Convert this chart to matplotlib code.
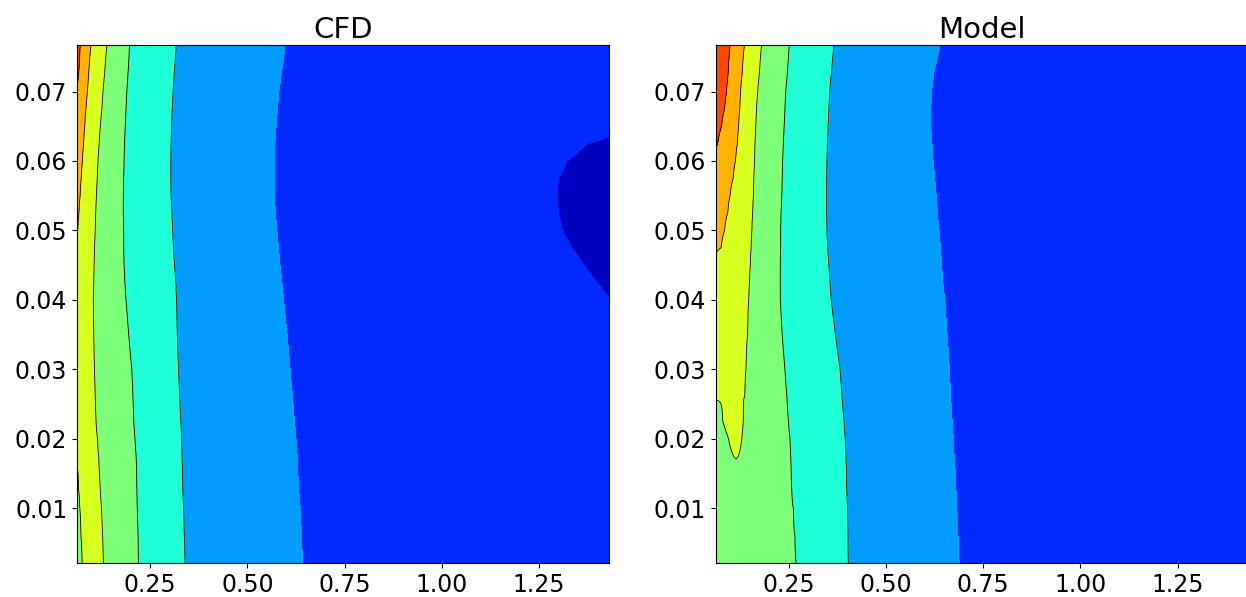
import numpy as np
import matplotlib
matplotlib.use("Agg")
import matplotlib.pyplot as plt

OUTPUT_IMG = "out.png"

# Domain shown in both panels
XMIN, XMAX = 0.062, 1.43

y_rows = [0.0767, 0.0725, 0.0700, 0.0675, 0.0650, 0.0625, 0.0600, 0.0575, 0.0550,
          0.0525, 0.0500, 0.0475, 0.0450, 0.0425, 0.0400, 0.0350, 0.0300, 0.0260,
          0.0225, 0.0200, 0.0175, 0.0160, 0.0125, 0.0100, 0.0060, 0.0021]
n = np.nan

# Field values in "band units": k = boundary between band k-1 and band k
# (1 dark blue/blue, 2 blue/light blue, ... 7 orange/red)

# ---- CFD: value at left / right edge and x position of each level boundary
cfd_left = [7.6, 7.2, 6.95, 6.7, 6.6, 6.5, 6.4, 6.3, 6.2, 6.1, 6.03, 5.9, 5.85,
            5.8, 5.8, 5.75, 5.7, 5.65, 5.6, 5.5, 5.3, 5.05, 4.8, 4.75, 4.7, 4.65]
cfd_right = [1.2, 1.15, 1.12, 1.09, 1.07, 0.95, 0.86, 0.82, 0.82, 0.82, 0.84, 0.87,
             0.92, 0.96, 1.005, 1.06, 1.1, 1.12, 1.13, 1.14, 1.15, 1.15, 1.15, 1.15,
             1.15, 1.15]
cfd_x7 = [0.070, 0.066] + [n] * 24
cfd_x6 = [0.098, 0.092, 0.089, 0.085, 0.082, 0.079, 0.076, 0.073, 0.070, 0.067,
          0.064] + [n] * 15
cfd_x5 = [0.139, 0.133, 0.129, 0.126, 0.122, 0.119, 0.116, 0.114, 0.112, 0.110,
          0.109, 0.107, 0.106, 0.105, 0.104, 0.105, 0.107, 0.109, 0.111, 0.115,
          0.118, 0.119, 0.122, 0.125, 0.128, 0.130]
cfd_x5b = [n] * 22 + [0.066, 0.069, 0.072, 0.075]
cfd_x4 = [0.197, 0.193, 0.190, 0.188, 0.186, 0.184, 0.183, 0.182, 0.181, 0.181,
          0.182, 0.182, 0.183, 0.185, 0.188, 0.195, 0.203, 0.206, 0.208, 0.211,
          0.214, 0.215, 0.216, 0.217, 0.219, 0.220]
cfd_x3 = [0.317, 0.312, 0.309, 0.307, 0.305, 0.304, 0.303, 0.303, 0.304, 0.306,
          0.308, 0.310, 0.313, 0.316, 0.318, 0.320, 0.323, 0.326, 0.329, 0.331,
          0.332, 0.333, 0.334, 0.336, 0.338, 0.340]
cfd_x2 = [0.597, 0.587, 0.581, 0.577, 0.574, 0.571, 0.569, 0.569, 0.570, 0.572,
          0.576, 0.580, 0.584, 0.589, 0.593, 0.602, 0.610, 0.616, 0.621, 0.625,
          0.628, 0.629, 0.632, 0.636, 0.639, 0.642]
cfd_x1 = [n] * 5 + [1.375, 1.322, 1.30, 1.296, 1.300, 1.31, 1.334, 1.365, 1.398] + [n] * 12

# ---- Model
mdl_left = [7.6, 7.5, 7.4, 7.3, 7.2, 7.05, 6.9, 6.8, 6.6, 6.4, 6.3, 6.1, 5.9,
            5.8, 5.7, 5.6, 5.4, 5.05, 4.8, 4.7, 4.6, 4.55, 4.5, 4.5, 4.4, 4.4]
mdl_right = [1.05] * 26
mdl_x7 = [0.099, 0.094, 0.090, 0.085, 0.077, 0.067] + [n] * 20
mdl_x6 = [0.136, 0.130, 0.126, 0.124, 0.121, 0.118, 0.113, 0.107, 0.099, 0.093,
          0.085, 0.076] + [n] * 14
mdl_x5 = [0.180, 0.174, 0.170, 0.167, 0.165, 0.163, 0.162, 0.160, 0.159, 0.157,
          0.155, 0.153, 0.151, 0.149, 0.147, 0.144, 0.140, 0.137, 0.133, 0.129,
          0.120] + [n] * 5
mdl_x5b = [n] * 18 + [0.080, 0.095, 0.108] + [n] * 5
mdl_x4 = [0.251, 0.246, 0.242, 0.240, 0.238, 0.236, 0.234, 0.233, 0.232, 0.230,
          0.229, 0.229, 0.228, 0.228, 0.228, 0.233, 0.240, 0.245, 0.249, 0.253,
          0.255, 0.256, 0.258, 0.262, 0.266, 0.269]
mdl_x3 = [0.366, 0.359, 0.355, 0.353, 0.351, 0.349, 0.348, 0.347, 0.347, 0.347,
          0.348, 0.350, 0.353, 0.356, 0.359, 0.370, 0.382, 0.387, 0.392, 0.395,
          0.397, 0.398, 0.399, 0.401, 0.402, 0.403]
mdl_x2 = [0.639, 0.622, 0.617, 0.615, 0.615, 0.618, 0.621, 0.625, 0.629, 0.632,
          0.636, 0.640, 0.643, 0.646, 0.651, 0.657, 0.663, 0.666, 0.670, 0.673,
          0.675, 0.677, 0.680, 0.682, 0.685, 0.688]

# contour level values (spaced roughly like the band positions, keeps the
# field gradient even so the boundaries stay smooth between rows)
level_vals = [-2.0, -1.33, -0.6, -0.33, -0.21, -0.13, -0.09, -0.07, -0.05, 0.0]
band_colors = plt.cm.jet((np.arange(9) + 0.5) / 9)
line_idx = [3, 4, 5, 6, 7, 8]
x_ticks = [0.25, 0.50, 0.75, 1.00, 1.25]
y_ticks = [0.01, 0.02, 0.03, 0.04, 0.05, 0.06, 0.07]


def build_field(xg, left, right, crossings):
    Z = np.empty((len(y_rows), len(xg)))
    for r in range(len(y_rows)):
        nodes = sorted((xs[r], lev) for lev, xs in crossings if not np.isnan(xs[r]))
        px, pv = [XMIN], [left[r]]
        for x, v in nodes + [(XMAX, right[r])]:
            # two crossings of the same level -> closed band in between
            if len(pv) > 1 and v == pv[-1]:
                step = 0.5 if pv[-1] > pv[-2] else -0.5
                px.append(0.5 * (px[-1] + x))
                pv.append(v + step)
            px.append(x)
            pv.append(v)
        pv = np.interp(pv, np.arange(len(level_vals)), level_vals)
        Z[r] = np.interp(xg, px, pv)
    return Z[::-1]


def draw(ax, Z, xg, title):
    yy = np.array(y_rows)[::-1]
    ax.contourf(xg, yy, Z, levels=level_vals, colors=band_colors)
    ax.contour(xg, yy, Z, levels=[level_vals[i] for i in line_idx],
               colors="k", linewidths=0.6, linestyles="solid")
    ax.set_xlim(XMIN, XMAX)
    ax.set_ylim(y_rows[-1], y_rows[0])
    ax.set_xticks(x_ticks)
    ax.set_yticks(y_ticks)
    ax.tick_params(labelsize=17)
    ax.set_title(title, fontsize=21, pad=5)


def main():
    xg = np.linspace(XMIN, XMAX, 1400)
    z_cfd = build_field(xg, cfd_left, cfd_right,
                        [(7, cfd_x7), (6, cfd_x6), (5, cfd_x5), (5, cfd_x5b),
                         (4, cfd_x4), (3, cfd_x3), (2, cfd_x2), (1, cfd_x1)])
    z_mdl = build_field(xg, mdl_left, mdl_right,
                        [(7, mdl_x7), (6, mdl_x6), (5, mdl_x5), (5, mdl_x5b),
                         (4, mdl_x4), (3, mdl_x3), (2, mdl_x2)])

    fig = plt.figure(figsize=(12.46, 5.97), dpi=100)
    ax1 = fig.add_axes([77 / 1246, 34 / 597, 532 / 1246, 518 / 597])
    ax2 = fig.add_axes([715.7 / 1246, 34 / 597, 532 / 1246, 518 / 597])
    draw(ax1, z_cfd, xg, "CFD")
    draw(ax2, z_mdl, xg, "Model")
    fig.savefig(OUTPUT_IMG, dpi=100)


if __name__ == '__main__':
    main()
